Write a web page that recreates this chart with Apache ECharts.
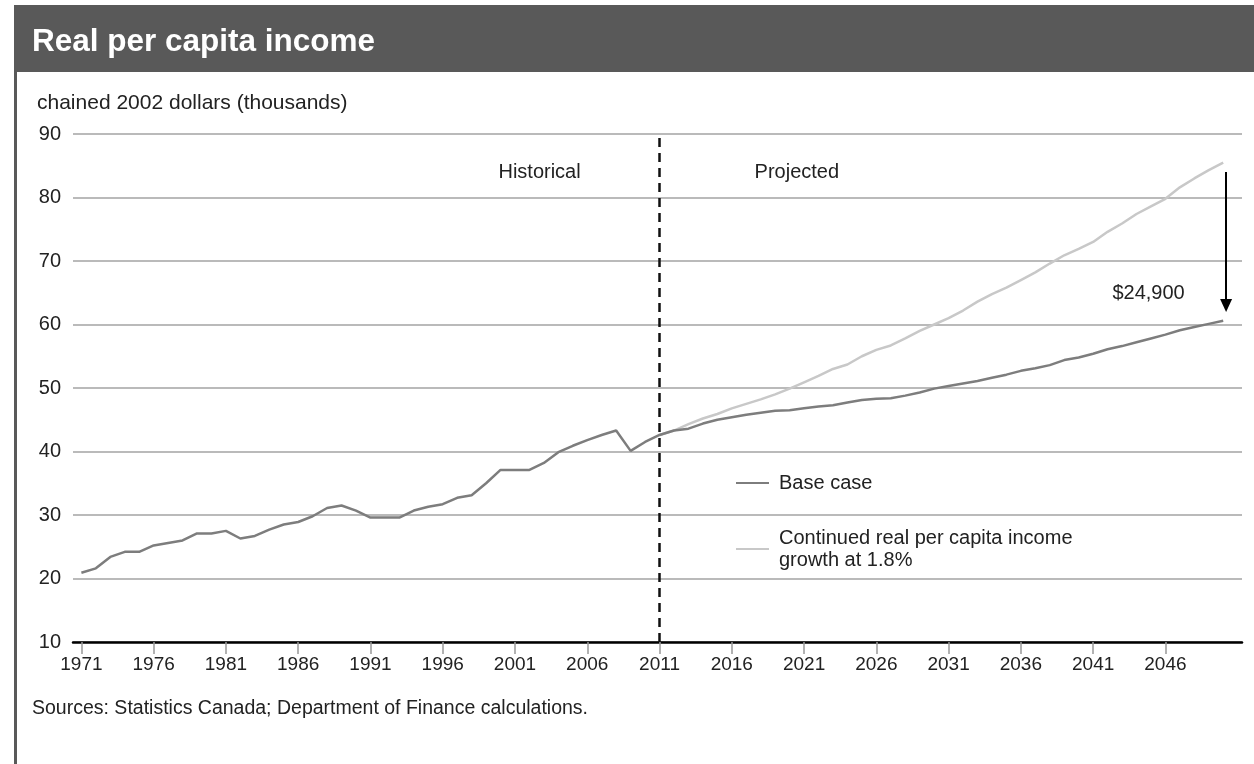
<!DOCTYPE html>
<html>
<head>
<meta charset="utf-8">
<script src="https://cdn.jsdelivr.net/npm/echarts@6/dist/echarts.min.js"></script>
<style>
  html, body { margin: 0; padding: 0; background: #ffffff; }
  #chart { width: 1254px; height: 764px; }
</style>
</head>
<body>
<div id="chart"></div>
<script>
// Real per capita income, chained 2002 dollars (thousands)
const FIRST_YEAR = 1971;

// Base case: historical to 2011, projected to 2050
const baseCase = [
  20.9, 21.6, 23.4, 24.2, 24.2, 25.2, 25.6, 26.0, 27.1, 27.1,   // 1971-1980
  27.5, 26.3, 26.7, 27.7, 28.5, 28.9, 29.8, 31.1, 31.5, 30.7,   // 1981-1990
  29.6, 29.6, 29.6, 30.7, 31.3, 31.7, 32.7, 33.1, 35.0, 37.1,   // 1991-2000
  37.1, 37.1, 38.2, 39.9, 40.9, 41.8, 42.6, 43.3, 40.1, 41.5,   // 2001-2010
  42.6, 43.3, 43.6, 44.4, 45.0, 45.4, 45.8, 46.1, 46.4, 46.5,   // 2011-2020
  46.8, 47.1, 47.3, 47.7, 48.1, 48.3, 48.4, 48.8, 49.3, 49.9,   // 2021-2030
  50.3, 50.7, 51.1, 51.6, 52.1, 52.7, 53.1, 53.6, 54.4, 54.8,   // 2031-2040
  55.4, 56.1, 56.6, 57.2, 57.8, 58.4, 59.1, 59.6, 60.1, 60.6    // 2041-2050
];

// Continued real per capita income growth at 1.8%, from 2011
const CONTINUED_START = 2011;
const continuedGrowth = [
  42.6, 43.3, 44.3, 45.2, 45.9, 46.8, 47.5, 48.2, 49.0, 49.9,   // 2011-2020
  50.9, 51.9, 53.0, 53.7, 55.0, 56.0, 56.7, 57.8, 59.0, 60.0,   // 2021-2030
  61.0, 62.2, 63.6, 64.8, 65.8, 67.0, 68.2, 69.6, 70.9, 71.9,   // 2031-2040
  73.0, 74.6, 75.9, 77.4, 78.6, 79.8, 81.6, 83.0, 84.3, 85.5    // 2041-2050
];

const tickYears = [1971, 1976, 1981, 1986, 1991, 1996, 2001, 2006,
                   2011, 2016, 2021, 2026, 2031, 2036, 2041, 2046];
const yTicks = [10, 20, 30, 40, 50, 60, 70, 80, 90];
const DIVIDE_YEAR = 2011;

const FONT = '"Liberation Sans", Arial, Helvetica, sans-serif';

const baseData = baseCase.map((v, i) => [FIRST_YEAR + i, v]);
const contData = continuedGrowth.map((v, i) => [CONTINUED_START + i, v]);
const lastYear = FIRST_YEAR + baseCase.length - 1;
const baseEnd = baseCase[baseCase.length - 1];
const contEnd = continuedGrowth[continuedGrowth.length - 1];
const gapDollars = Math.round((contEnd - baseEnd) * 1000);
const gapLabel = '$' + String(gapDollars).replace(/\B(?=(\d{3})+(?!\d))/g, ',');

const chart = echarts.init(document.getElementById('chart'), null, { renderer: 'canvas' });

const option = {
  animation: false,
  backgroundColor: '#ffffff',
  graphic: [
    { type: 'rect', left: 14, top: 5, z: 0,
      shape: { width: 1240, height: 67 }, style: { fill: '#595959' } },
    { type: 'rect', left: 14, top: 72, z: 0,
      shape: { width: 3, height: 692 }, style: { fill: '#595959' } }
  ],
  title: [
    { text: 'Real per capita income', left: 27, top: 21, z: 10,
      textStyle: { color: '#ffffff', fontSize: 31.5, fontWeight: 'bold', fontFamily: FONT } },
    { text: 'chained 2002 dollars (thousands)', left: 32, top: 88,
      textStyle: { color: '#222222', fontSize: 21, fontWeight: 'normal', fontFamily: FONT } },
    { text: 'Sources: Statistics Canada; Department of Finance calculations.', left: 27, top: 694,
      textStyle: { color: '#222222', fontSize: 19.5, fontWeight: 'normal', fontFamily: FONT } }
  ],
  legend: {
    orient: 'vertical', left: 731, top: 467, itemGap: 33,
    itemWidth: 33, itemHeight: 2, icon: 'rect',
    selectedMode: false,
    textStyle: { color: '#222222', fontSize: 20, lineHeight: 22, fontFamily: FONT, padding: [0, 0, 0, 5] },
    data: ['Base case', 'Continued real per capita income\ngrowth at 1.8%']
  },
  grid: { left: 73, right: 12, top: 134, bottom: 122 },
  xAxis: {
    type: 'value', min: 1970.42, max: 2051.3,
    axisLine: { onZero: false, lineStyle: { color: '#000000', width: 2.5 } },
    axisTick: { show: true, customValues: tickYears, length: 12, lineStyle: { color: '#999999', width: 1.5 } },
    axisLabel: { customValues: tickYears, margin: 13, fontSize: 19, color: '#222222', fontFamily: FONT,
                 formatter: v => String(v) },
    splitLine: { show: false }
  },
  yAxis: {
    type: 'value', min: 10, max: 90, interval: 10,
    axisLine: { show: false }, axisTick: { show: false },
    axisLabel: { margin: 12, fontSize: 20, color: '#222222', fontFamily: FONT,
                 customValues: yTicks },
    splitLine: { lineStyle: { color: '#a3a3a3', width: 1.5 } }
  },
  series: [
    {
      name: 'Base case', type: 'line', data: baseData,
      showSymbol: false, color: '#7d7d7d', z: 4,
      lineStyle: { color: '#7d7d7d', width: 2.5 },
      markLine: {
        silent: true, symbol: ['none', 'none'],
        label: { show: false },
        lineStyle: { color: '#111111', width: 2.5, type: [9, 6] },
        data: [{ xAxis: DIVIDE_YEAR }]
      },
      markPoint: {
        silent: true, symbol: 'circle', symbolSize: 1,
        itemStyle: { color: 'rgba(0,0,0,0)' },
        label: { show: true, position: 'inside', color: '#222222', fontSize: 20, fontFamily: FONT },
        data: [
          { coord: [2002.7, 84.0], label: { formatter: 'Historical' } },
          { coord: [2020.5, 84.0], label: { formatter: 'Projected' } },
          { coord: [lastYear, 64.9], label: { formatter: gapLabel, position: 'left', distance: 38 } }
        ]
      }
    },
    {
      name: 'Continued real per capita income\ngrowth at 1.8%', type: 'line', data: contData,
      showSymbol: false, color: '#c8c8c8', z: 3,
      lineStyle: { color: '#c8c8c8', width: 2.5 },
      markLine: {
        silent: true, symbol: ['none', 'triangle'], symbolSize: [12, 13],
        label: { show: false },
        lineStyle: { color: '#000000', width: 2, type: 'solid' },
        data: [[
          { coord: [lastYear + 0.2, contEnd - 1.5] },
          { coord: [lastYear + 0.2, baseEnd + 2.4] }
        ]]
      }
    }
  ]
};

chart.setOption(option);
</script>
</body>
</html>
